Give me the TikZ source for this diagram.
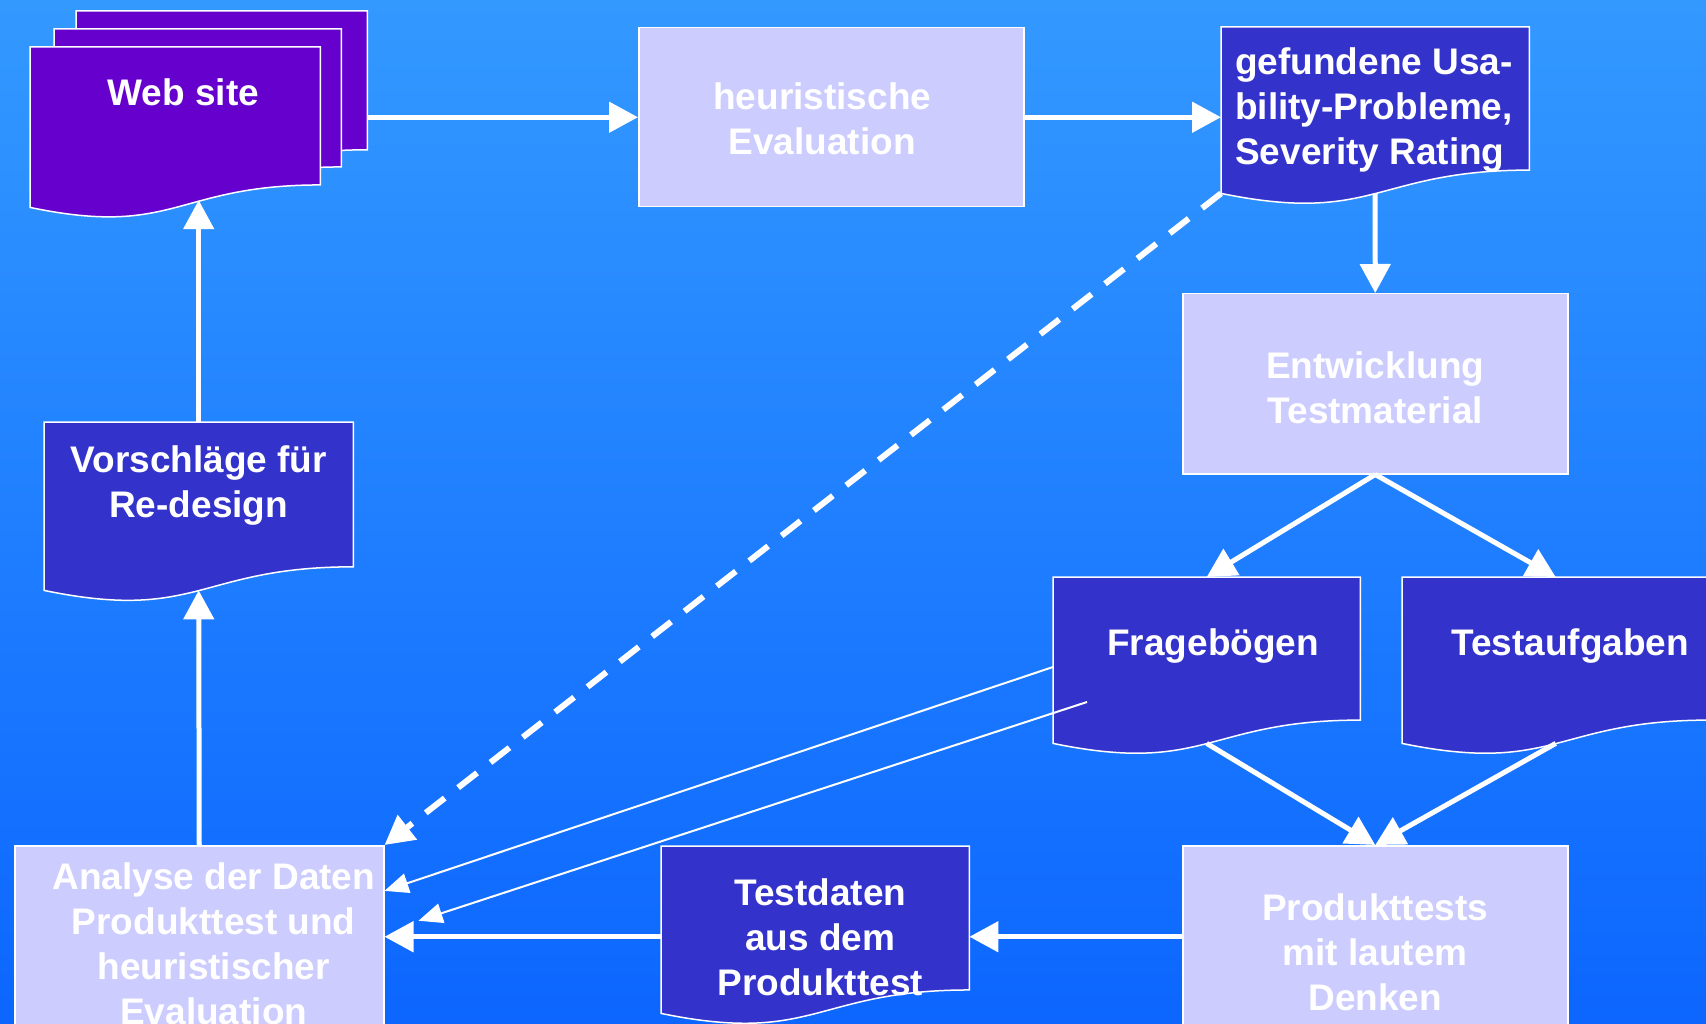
\documentclass[tikz,border=0pt]{standalone}
\usepackage{fontspec}
\setmainfont{Liberation Sans}
\usetikzlibrary{arrows.meta,calc}
\definecolor{skytop}{RGB}{51,153,255}
\definecolor{skybottom}{RGB}{12,102,255}
\definecolor{lavender}{RGB}{204,204,255}
\definecolor{docblue}{RGB}{51,51,204}
\definecolor{webviolet}{RGB}{102,0,204}
\pgfdeclarelayer{sky}
\pgfdeclarelayer{paper}
\pgfsetlayers{sky,paper,main}

% text block: width, height, space above, lines
\newcommand{\boxtext}[4]{\parbox[c][#2pt][t]{#1pt}{\centering\vspace*{#3pt}\leavevmode#4}}
% document sheet with wavy lower edge
\newcommand{\paperpath}[2]{\filldraw[fill=#2, draw=white, line width=1.5pt] (#1.north west) -- (#1.north east) -- ($(#1.north east)!0.86!(#1.south east)$) .. controls ($(#1.north)!0.86!(#1.south)$) and ($(#1.north)!1.19!(#1.south)$) .. (#1.south west) -- cycle;}

\begin{document}
\begin{tikzpicture}[x=1pt, y=-1pt,
	every node/.style={font=\bfseries\fontsize{37pt}{45pt}\selectfont, text=white, inner sep=0pt, anchor=north west},
	box/.style={fill=lavender, draw=white, line width=1.5pt},
	>={Triangle[length=29pt,width=30pt]},
	flow/.style={->, white, line width=5pt},
	thinflow/.style={-{Triangle[length=24pt,width=20pt]}, white, line width=2pt}]
	\useasboundingbox (0,0) rectangle (1706,1024);
	\begin{pgfonlayer}{sky}
		\shade[top color=skytop, bottom color=skybottom] (0,0) rectangle (1706,1024);
	\end{pgfonlayer}
	% sheets
	\node (web3) at (76,11) {\boxtext{291}{161}{0}{}};
	\node (web2) at (54,29) {\boxtext{287}{160}{0}{}};
	\node (web) at (30,47) {\boxtext{290}{160}{31}{\leftskip=16pt plus 1fil Web site}};
	\node (found) at (1221,27) {\boxtext{308}{166}{20}{\raggedright\leftskip=14pt gefundene Usa-\\bility-Probleme,\\Severity Rating}};
	\node (ideas) at (44,422) {\boxtext{309}{168}{23}{Vorschläge für\\Re-design}};
	\node (quest) at (1053,577) {\boxtext{307}{166}{51}{\leftskip=13pt plus 1fil Fragebögen}};
	\node (tasks) at (1402,577) {\boxtext{307}{166}{51}{\leftskip=29pt plus 1fil Testaufgaben}};
	\node (data) at (661,846) {\boxtext{308}{167}{32}{\leftskip=10pt plus 1fil Testdaten\\aus dem\\Produkttest}};
	% boxes
	\node[box] (heur) at (638,27) {\boxtext{385}{179}{55}{\rightskip=18pt plus 1fil heuristische\\Evaluation}};
	\node[box] (ent) at (1182,293) {\boxtext{385}{180}{58}{Entwicklung\\Testmaterial}};
	\node[box] (ana) at (14,845) {\boxtext{369}{182}{17}{\leftskip=29pt plus 1fil Analyse der Daten\\Produkttest und\\heuristischer\\Evaluation}};
	\node[box] (prod) at (1182,845) {\boxtext{385}{182}{48}{Produkttests\\mit lautem\\Denken}};
	\begin{pgfonlayer}{paper}
		\foreach \n/\c in {web3/webviolet, web2/webviolet, web/webviolet, found/docblue, ideas/docblue, quest/docblue, tasks/docblue, data/docblue} {\paperpath{\n}{\c}}
	\end{pgfonlayer}
	\coordinate (webin) at ($(web.north)!0.955!(web.south)$);
	\coordinate (qa) at ($(quest.north west)+(0,90)$);
	\coordinate (qb) at ($(quest.north west)+(34,125)$);
	\coordinate (anain) at ($(ana.north east)!0.25!(ana.south east)$);
	\coordinate (anaout) at ($(ana.east)+(34,-16)$);
	% arrows
	\draw[flow] (heur.west -| web3.east) -- (heur.west);
	\draw[flow] (heur.east) -- (heur.east -| found.west);
	\draw[flow] (found.south) -- (ent.north);
	\draw[flow] (ent.south) -- (quest.north);
	\draw[flow] (ent.south) -- (tasks.north);
	\draw[flow] (quest.south) -- (prod.north);
	\draw[flow] (tasks.south) -- (prod.north);
	\draw[flow] (prod.west) -- (prod.west -| data.east);
	\draw[flow] (ana.east -| data.west) -- (ana.east);
	\draw[flow] (ana.north) -- (ideas.south);
	\draw[flow] (ideas.north) -- (ideas.north |- webin);
	\draw[flow, line width=6pt, dash pattern=on 24pt off 17pt] (found.south west) -- (ana.north east);
	\draw[thinflow] (qa) -- (anain);
	\draw[thinflow] (qb) -- (anaout);
\end{tikzpicture}
\end{document}
